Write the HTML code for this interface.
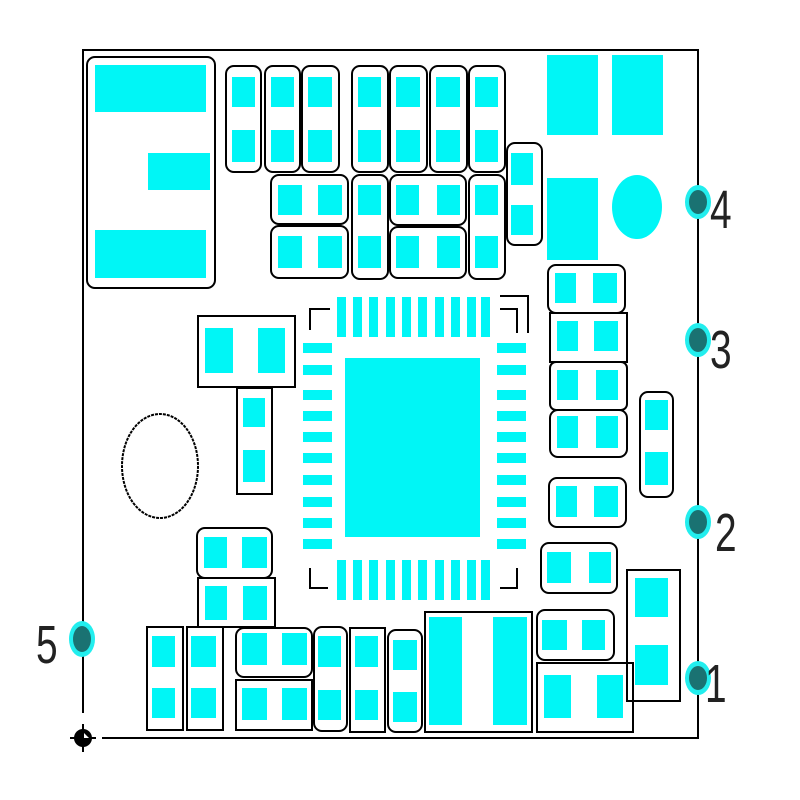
<!DOCTYPE html>
<html><head><meta charset="utf-8"><style>body{margin:0;background:#fff}svg{display:block}</style></head><body>
<svg width="800" height="800" viewBox="0 0 800 800" xmlns="http://www.w3.org/2000/svg">
<rect width="800" height="800" fill="#fff"/>
<g stroke="#000" stroke-width="2" fill="none">
<polyline points="83,713 83,50 698,50 698,738 102,738"/>
<rect x="87" y="57" width="128" height="231" rx="8"/>
<rect x="226" y="66" width="35" height="106" rx="8"/>
<rect x="265" y="66" width="35" height="106" rx="8"/>
<rect x="302" y="66" width="37" height="106" rx="8"/>
<rect x="352" y="66" width="36" height="106" rx="8"/>
<rect x="390" y="66" width="37" height="106" rx="8"/>
<rect x="430" y="66" width="37" height="106" rx="8"/>
<rect x="469" y="66" width="36" height="106" rx="8"/>
<rect x="271" y="175" width="77" height="49" rx="8"/>
<rect x="271" y="226" width="77" height="52" rx="8"/>
<rect x="352" y="175" width="36" height="104" rx="8"/>
<rect x="390" y="175" width="76" height="50" rx="8"/>
<rect x="390" y="227" width="76" height="51" rx="8"/>
<rect x="469" y="175" width="36" height="104" rx="8"/>
<rect x="507" y="143" width="35" height="102" rx="8"/>
<rect x="198" y="316" width="97" height="71"/>
<rect x="237" y="388" width="35" height="106"/>
<ellipse cx="160" cy="466" rx="38" ry="52" stroke-dasharray="3,1"/>
<polyline points="310,330 310,309 330,309"/>
<polyline points="500,309 517,309 517,333"/>
<polyline points="500,296 528,296 528,333"/>
<polyline points="310,568 310,588 328,588"/>
<polyline points="500,588 517,588 517,568"/>
<rect x="548" y="265" width="77" height="48" rx="8"/>
<rect x="550" y="313" width="77" height="49"/>
<rect x="550" y="362" width="77" height="48" rx="6"/>
<rect x="550" y="410" width="77" height="47" rx="8"/>
<rect x="549" y="478" width="77" height="49" rx="8"/>
<rect x="541" y="543" width="76" height="50" rx="8"/>
<rect x="640" y="392" width="33" height="105" rx="8"/>
<rect x="627" y="570" width="53" height="131"/>
<rect x="537" y="610" width="77" height="50" rx="8"/>
<rect x="537" y="663" width="96" height="69"/>
<rect x="425" y="612" width="107" height="120"/>
<rect x="197" y="528" width="75" height="50" rx="8"/>
<rect x="198" y="578" width="77" height="49"/>
<rect x="147" y="627" width="36" height="103"/>
<rect x="187" y="627" width="36" height="103"/>
<rect x="236" y="628" width="76" height="49" rx="8"/>
<rect x="236" y="680" width="76" height="50"/>
<rect x="314" y="627" width="33" height="104" rx="8"/>
<rect x="350" y="628" width="35" height="104"/>
<rect x="388" y="630" width="34" height="102" rx="8"/>
</g>
<g fill="#00f6f6">
<rect x="95" y="65" width="111" height="47"/>
<rect x="148" y="153" width="62" height="37"/>
<rect x="95" y="230" width="111" height="48"/>
<rect x="232" y="77" width="23" height="30"/><rect x="232" y="130" width="23" height="32"/>
<rect x="271" y="77" width="23" height="30"/><rect x="271" y="130" width="23" height="32"/>
<rect x="308" y="77" width="24" height="30"/><rect x="308" y="130" width="24" height="32"/>
<rect x="358" y="77" width="23" height="30"/><rect x="358" y="130" width="23" height="32"/>
<rect x="396" y="77" width="24" height="30"/><rect x="396" y="130" width="24" height="32"/>
<rect x="436" y="77" width="24" height="30"/><rect x="436" y="130" width="24" height="32"/>
<rect x="475" y="77" width="23" height="30"/><rect x="475" y="130" width="23" height="32"/>
<rect x="278" y="185" width="24" height="30"/><rect x="318" y="185" width="24" height="30"/>
<rect x="278" y="236" width="24" height="32"/><rect x="318" y="236" width="24" height="32"/>
<rect x="358" y="185" width="23" height="30"/><rect x="358" y="236" width="23" height="32"/>
<rect x="396" y="185" width="23" height="30"/><rect x="437" y="185" width="23" height="30"/>
<rect x="396" y="236" width="23" height="32"/><rect x="437" y="236" width="23" height="32"/>
<rect x="475" y="185" width="23" height="30"/><rect x="475" y="236" width="23" height="32"/>
<rect x="511" y="153" width="22" height="32"/><rect x="511" y="205" width="22" height="30"/>
<rect x="547" y="55" width="51" height="80"/><rect x="612" y="55" width="51" height="80"/>
<rect x="547" y="178" width="51" height="82"/>
<ellipse cx="637" cy="207" rx="25" ry="32"/>
<rect x="205" y="328" width="28" height="45"/><rect x="258" y="328" width="27" height="45"/>
<rect x="243" y="398" width="22" height="29"/><rect x="243" y="450" width="22" height="32"/>
<rect x="345" y="358" width="135" height="179"/>
<g id="lp">
<rect x="303" y="343" width="29" height="10"/><rect x="303" y="365" width="29" height="10"/>
<rect x="303" y="390" width="29" height="10"/><rect x="303" y="411" width="29" height="10"/>
<rect x="303" y="432" width="29" height="10"/><rect x="303" y="453" width="29" height="10"/>
<rect x="303" y="475" width="29" height="10"/><rect x="303" y="497" width="29" height="10"/>
<rect x="303" y="518" width="29" height="10"/><rect x="303" y="539" width="29" height="10"/>
</g>
<use href="#lp" x="194"/>
<g id="tp">
<rect x="337" y="297" width="9" height="40"/><rect x="353" y="297" width="9" height="40"/>
<rect x="369" y="297" width="9" height="40"/><rect x="386" y="297" width="9" height="40"/>
<rect x="402" y="297" width="9" height="40"/><rect x="418" y="297" width="9" height="40"/>
<rect x="435" y="297" width="9" height="40"/><rect x="451" y="297" width="9" height="40"/>
<rect x="467" y="297" width="9" height="40"/><rect x="481" y="297" width="9" height="40"/>
</g>
<use href="#tp" y="263"/>
<rect x="555" y="273" width="21" height="30"/><rect x="593" y="273" width="24" height="30"/>
<rect x="557" y="321" width="21" height="30"/><rect x="594" y="321" width="24" height="30"/>
<rect x="557" y="370" width="21" height="30"/><rect x="596" y="370" width="22" height="30"/>
<rect x="557" y="416" width="21" height="32"/><rect x="596" y="416" width="22" height="32"/>
<rect x="556" y="486" width="21" height="31"/><rect x="594" y="486" width="24" height="31"/>
<rect x="547" y="552" width="24" height="31"/><rect x="589" y="552" width="22" height="31"/>
<rect x="645" y="400" width="23" height="30"/><rect x="645" y="452" width="23" height="33"/>
<rect x="635" y="578" width="33" height="39"/><rect x="635" y="645" width="33" height="40"/>
<rect x="542" y="620" width="25" height="30"/><rect x="582" y="620" width="23" height="30"/>
<rect x="544" y="675" width="27" height="43"/><rect x="597" y="675" width="26" height="43"/>
<rect x="429" y="617" width="33" height="108"/><rect x="493" y="617" width="34" height="108"/>
<rect x="204" y="537" width="23" height="31"/><rect x="242" y="537" width="25" height="31"/>
<rect x="205" y="586" width="22" height="34"/><rect x="243" y="586" width="24" height="34"/>
<rect x="152" y="636" width="23" height="31"/><rect x="152" y="688" width="23" height="30"/>
<rect x="191" y="636" width="25" height="31"/><rect x="191" y="688" width="25" height="30"/>
<rect x="242" y="633" width="25" height="32"/><rect x="282" y="633" width="25" height="32"/>
<rect x="242" y="688" width="25" height="32"/><rect x="282" y="688" width="25" height="32"/>
<rect x="318" y="636" width="23" height="31"/><rect x="318" y="690" width="23" height="30"/>
<rect x="355" y="636" width="23" height="31"/><rect x="355" y="690" width="23" height="30"/>
<rect x="393" y="640" width="24" height="30"/><rect x="393" y="692" width="24" height="30"/>
</g>
<g>
<ellipse cx="698" cy="202" rx="13" ry="17" fill="#2ee"/><ellipse cx="698" cy="202" rx="9" ry="12" fill="#1a7272"/>
<ellipse cx="698" cy="340" rx="13" ry="17" fill="#2ee"/><ellipse cx="698" cy="340" rx="9" ry="12" fill="#1a7272"/>
<ellipse cx="698" cy="522" rx="13" ry="17" fill="#2ee"/><ellipse cx="698" cy="522" rx="9" ry="12" fill="#1a7272"/>
<ellipse cx="698" cy="678" rx="13" ry="17" fill="#2ee"/><ellipse cx="698" cy="678" rx="9" ry="12" fill="#1a7272"/>
<ellipse cx="82" cy="639" rx="13" ry="18" fill="#2ee"/><ellipse cx="82" cy="639" rx="9" ry="13" fill="#1a7272"/>
</g>
<g font-family="Liberation Sans, sans-serif" font-size="54" fill="#222">
<text transform="translate(710,228) scale(0.72,1)">4</text>
<text transform="translate(710,368) scale(0.72,1)">3</text>
<text transform="translate(715,551) scale(0.72,1)">2</text>
<text transform="translate(705,702) scale(0.72,1)">1</text>
<text transform="translate(36,663) scale(0.72,1)">5</text>
</g>
<g fill="#000">
<circle cx="83" cy="738" r="9"/>
<rect x="70" y="737" width="26" height="2"/>
<rect x="82" y="724" width="2" height="28"/>
<path d="M84,733 l5,5 l-5,0z" fill="#fff"/>
</g>
</svg>
</body></html>
